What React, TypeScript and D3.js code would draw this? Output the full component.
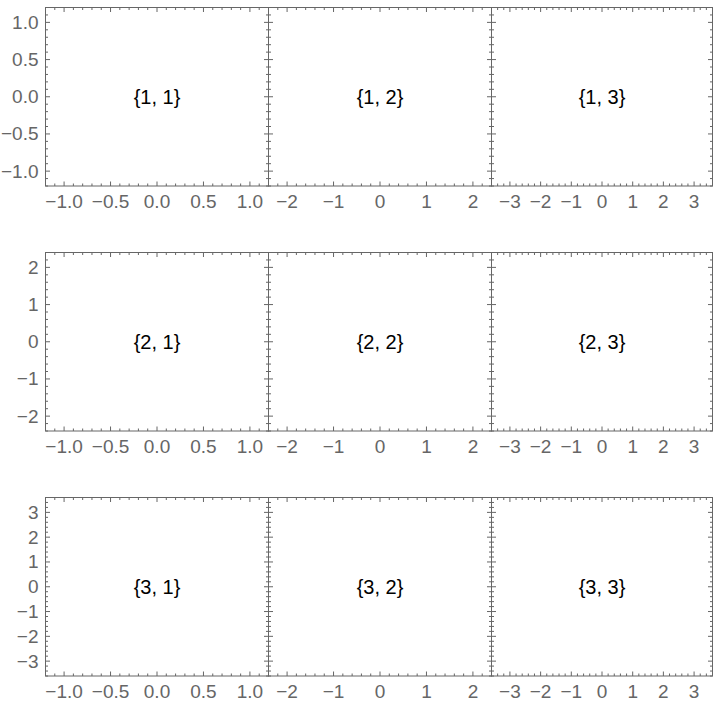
import React from "react";
import * as d3 from "d3";

// Panel ranges (symmetric extents) per column (x) and row (y)
const colExtents = [1.2, 2.4, 3.6];
const rowExtents = [1.2, 2.4, 3.6];
const minorSteps = [0.1, 0.2, 0.2];
const majorValues = [
  [-1, -0.5, 0, 0.5, 1],
  [-2, -1, 0, 1, 2],
  [-3, -2, -1, 0, 1, 2, 3],
];
const majorLabels = [
  ["−1.0", "−0.5", "0.0", "0.5", "1.0"],
  ["−2", "−1", "0", "1", "2"],
  ["−3", "−2", "−1", "0", "1", "2", "3"],
];
const panelLabels = [
  ["{1, 1}", "{1, 2}", "{1, 3}"],
  ["{2, 1}", "{2, 2}", "{2, 3}"],
  ["{3, 1}", "{3, 2}", "{3, 3}"],
];

const W = 720;
const H = 704;
const colEdges = [45.5, 268.5, 491.5, 712.5];
const rowTops = [7.5, 252.5, 497.5];
const panelH = 178.5;
const FRAME = "#666666";
const MAJOR_LEN = 4.5;
const MINOR_LEN = 2.5;
const FONT = "'Liberation Sans', Arial, sans-serif";

function minorTicks(ext: number, step: number, majors: number[]) {
  const n = Math.floor(ext / step + 1e-9);
  const out: number[] = [];
  for (let i = -n; i <= n; i++) {
    const v = +(i * step).toFixed(6);
    if (!majors.some((m) => Math.abs(m - v) < 1e-6)) out.push(v);
  }
  return out;
}

function Panel({ r, c }: { r: number; c: number }) {
  const x0 = colEdges[c];
  const x1 = colEdges[c + 1];
  const y0 = rowTops[r];
  const y1 = y0 + panelH;
  const xs = d3.scaleLinear().domain([-colExtents[c], colExtents[c]]).range([x0, x1]);
  const ys = d3.scaleLinear().domain([-rowExtents[r], rowExtents[r]]).range([y1, y0]);
  const xMaj = majorValues[c];
  const yMaj = majorValues[r];
  const xMin = minorTicks(colExtents[c], minorSteps[c], xMaj);
  const yMin = minorTicks(rowExtents[r], minorSteps[r], yMaj);
  const ticks: React.ReactNode[] = [];
  const addX = (v: number, len: number, k: string) => {
    const x = xs(v);
    ticks.push(<line key={"xb" + k} x1={x} x2={x} y1={y1} y2={y1 - len} />);
    ticks.push(<line key={"xt" + k} x1={x} x2={x} y1={y0} y2={y0 + len} />);
  };
  const addY = (v: number, len: number, k: string) => {
    const y = ys(v);
    ticks.push(<line key={"yl" + k} x1={x0} x2={x0 + len} y1={y} y2={y} />);
    ticks.push(<line key={"yr" + k} x1={x1} x2={x1 - len} y1={y} y2={y} />);
  };
  xMaj.forEach((v, i) => addX(v, MAJOR_LEN, "M" + i));
  xMin.forEach((v, i) => addX(v, MINOR_LEN, "m" + i));
  yMaj.forEach((v, i) => addY(v, MAJOR_LEN, "M" + i));
  yMin.forEach((v, i) => addY(v, MINOR_LEN, "m" + i));
  return (
    <g>
      <g stroke={FRAME} strokeWidth={1}>{ticks}</g>
      <rect x={x0} y={y0} width={x1 - x0} height={y1 - y0} fill="none" stroke={FRAME} strokeWidth={1} />
      <g fill={FRAME} fontSize={19} fontFamily={FONT}>
        {xMaj.map((v, i) => (
          <text key={"xl" + i} x={xs(v)} y={y1 + 22} textAnchor="middle">
            {majorLabels[c][i]}
          </text>
        ))}
        {c === 0 &&
          yMaj.map((v, i) => (
            <text key={"yl" + i} x={x0 - 7} y={ys(v)} textAnchor="end" dominantBaseline="central">
              {majorLabels[r][i]}
            </text>
          ))}
      </g>
      <text
        x={(x0 + x1) / 2}
        y={(y0 + y1) / 2}
        textAnchor="middle"
        dominantBaseline="central"
        fontSize={20}
        fontFamily={FONT}
        fill="#000"
      >
        {panelLabels[r][c]}
      </text>
    </g>
  );
}

export default function App() {
  return (
    <svg
      width={W}
      height={H}
      viewBox={`0 0 ${W} ${H}`}
      style={{ position: "absolute", left: 0, top: 0, background: "#fff" }}
    >
      <rect x={0} y={0} width={W} height={H} fill="#fff" />
      {[0, 1, 2].map((r) => [0, 1, 2].map((c) => <Panel key={`${r}-${c}`} r={r} c={c} />))}
    </svg>
  );
}
